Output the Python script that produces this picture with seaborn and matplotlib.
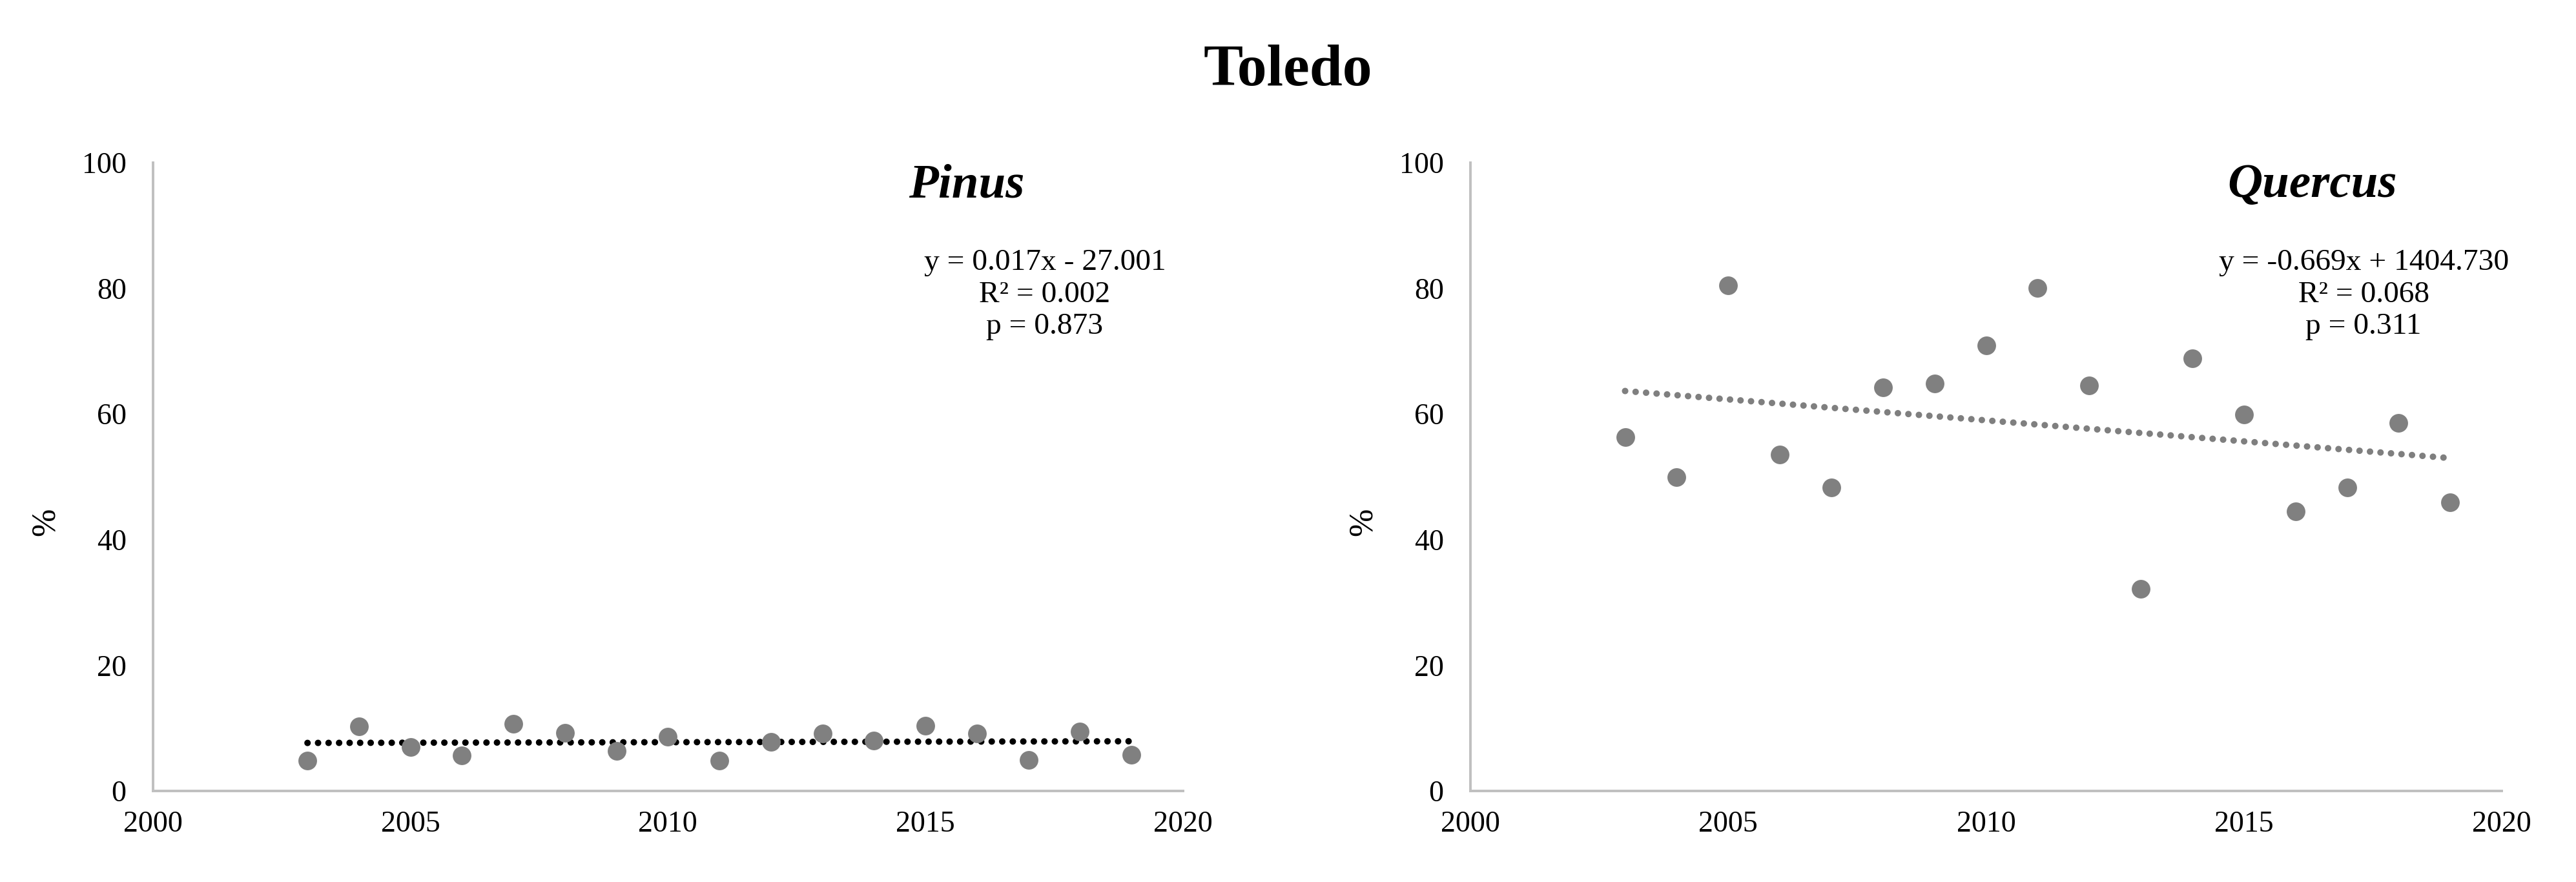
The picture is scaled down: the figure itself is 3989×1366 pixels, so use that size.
import pandas as pd
import matplotlib.pyplot as plt
import seaborn as sns

# Data
years = list(range(2003, 2020))
pinus = [4.8, 10.3, 7.0, 5.7, 10.7, 9.3, 6.4, 8.6, 4.8, 7.8, 9.1, 8.0, 10.4, 9.2, 4.9, 9.5, 5.8]
quercus = [56.3, 50.0, 80.5, 53.5, 48.3, 64.2, 64.9, 70.9, 80.1, 64.5, 32.2, 68.9, 59.9, 44.5, 48.3, 58.6, 45.9]

site = "Toledo"
taxa = ["Pinus", "Quercus"]
equations = [
    ["y = 0.017x - 27.001", "R² = 0.002", "p = 0.873"],
    ["y = -0.669x + 1404.730", "R² = 0.068", "p = 0.311"],
]
trend_colors = ["black", "#7f7f7f"]
title_x = [0.790, 0.816]

df = pd.DataFrame({"year": years, "Pinus": pinus, "Quercus": quercus})

sns.set_style("white")
plt.rcParams["font.family"] = ["Liberation Serif", "DejaVu Serif"]
plt.rcParams["text.color"] = "black"
plt.rcParams["axes.labelcolor"] = "black"

fig = plt.figure(figsize=(3989 / 300, 1366 / 300), dpi=300)
axes = [
    fig.add_axes([0.0594, 0.1032, 0.3998, 0.7123]),
    fig.add_axes([0.5708, 0.1032, 0.4004, 0.7123]),
]

for ax, taxon, eq, tcol, tx in zip(axes, taxa, equations, trend_colors, title_x):
    sns.regplot(data=df, x="year", y=taxon, ax=ax, ci=None, truncate=True,
                scatter_kws={"s": 48, "color": "#808080", "alpha": 1, "linewidths": 0, "zorder": 3},
                line_kws={"color": tcol, "linewidth": 2.4, "linestyle": (0, (0.01, 1.62)),
                          "dash_capstyle": "round", "zorder": 2})
    ax.set_xlim(2000, 2020)
    ax.set_ylim(0, 100)
    ax.set_xticks(range(2000, 2021, 5))
    ax.set_yticks(range(0, 101, 20))
    ax.set_xlabel("")
    ax.set_ylabel("%", fontsize=12.5)
    ax.yaxis.set_label_coords(-0.089, 0.4286)
    sns.despine(ax=ax)
    for side in ["left", "bottom"]:
        ax.spines[side].set_color("#c0c0c0")
        ax.spines[side].set_linewidth(0.95)
    ax.tick_params(axis="both", direction="out", length=3.4, width=0.95, color="#c0c0c0",
                   labelsize=11, labelcolor="black")
    ax.tick_params(axis="y", pad=6.5)
    ax.tick_params(axis="x", pad=4)
    ax.text(tx, 0.9455, taxon, transform=ax.transAxes,
            ha="center", va="baseline", fontsize=18, fontweight="bold", fontstyle="italic")
    for i, line in enumerate(eq):
        ax.text(0.866, 0.829 - 0.0505 * i, line, transform=ax.transAxes,
                ha="center", va="baseline", fontsize=11.4)

fig.text(0.5, 0.9034, site, ha="center", va="baseline", fontsize=22, fontweight="bold")

fig.savefig("out.png", dpi=300)
